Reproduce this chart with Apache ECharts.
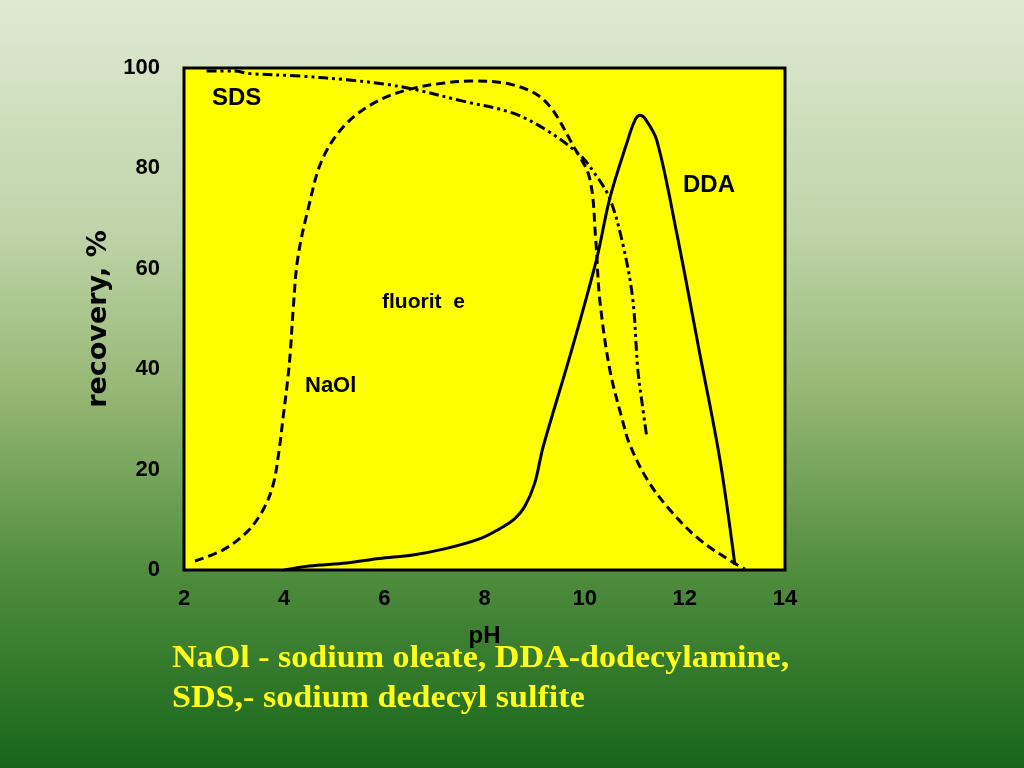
<!DOCTYPE html>
<html>
<head>
<meta charset="utf-8">
<script src="https://cdn.jsdelivr.net/npm/echarts@6/dist/echarts.min.js"></script>
<style>html,body{margin:0;padding:0;}#c{width:1024px;height:768px;}</style>
</head>
<body>
<div id="c"></div>
<script>
// ---- data (pH, recovery %) ----
const naolPH  = [2.22, 2.78, 3.26, 3.58, 3.78, 3.9, 3.98, 4.06, 4.12, 4.18, 4.27, 4.48, 4.77, 5.25, 5.9, 6.6, 7.2, 7.7, 8.5, 9.2, 9.8, 10.1, 10.22, 10.3, 10.5, 10.75, 10.9, 11.25, 11.7, 12.3, 12.95, 13.2];
const naolRec = [1.8, 4, 7.6, 12, 17, 24, 30.5, 37, 43, 52, 62, 72, 82, 89, 93.6, 96, 97, 97.4, 96.8, 93.5, 84, 78, 66, 54, 40, 30, 25, 18, 12, 6, 1.6, 0.2];

const sdsPH  = [2.45, 3.0, 3.3, 4.3, 5.3, 6.0, 6.57, 7.57, 8.57, 9.24, 9.9, 10.2, 10.5, 10.76, 10.96, 11.06, 11.15, 11.24];
const sdsRec = [99.4, 99.4, 98.9, 98.4, 97.6, 96.8, 95.8, 93.4, 91, 87.6, 82.7, 79, 74, 65, 54, 40, 33, 26.5];

const ddaPH  = [4.0, 4.5, 5.25, 5.9, 6.57, 7.2, 7.9, 8.3, 8.6, 8.8, 9.0, 9.17, 9.74, 10.24, 10.5, 10.84, 11.0, 11.1, 11.2, 11.44, 11.84, 12.3, 12.7, 13.0];
const ddaRec = [0, 0.8, 1.4, 2.3, 3, 4.2, 6.2, 8.2, 10.2, 12.6, 17.2, 24.5, 43.8, 62, 74, 85, 89.5, 90.6, 90, 85.6, 67, 43, 22, 1];

const xTicks = [2, 4, 6, 8, 10, 12, 14];
const yTicks = [0, 20, 40, 60, 80, 100];
const xName = 'pH';
const yName = 'recovery, %';
const curveLabels = ['SDS', 'DDA', 'fluorit  e', 'NaOl'];
const caption = ['NaOl - sodium oleate, DDA-dodecylamine,', 'SDS,- sodium dedecyl sulfite'];

const zip = (a, b) => a.map((v, i) => [v, b[i]]);

const chart = echarts.init(document.getElementById('c'));
const sans = 'Arial, "Liberation Sans", sans-serif';
const lineBase = { type: 'line', showSymbol: false, smooth: 0.35, silent: true };

chart.setOption({
  animation: false,
  backgroundColor: {
    type: 'linear', x: 0, y: 0, x2: 0, y2: 1,
    colorStops: [
      { offset: 0, color: '#dfe9d4' },
      { offset: 0.3, color: '#bfd4a8' },
      { offset: 0.5, color: '#99b977' },
      { offset: 0.75, color: '#4f8c3d' },
      { offset: 1, color: '#17661a' }
    ]
  },
  grid: {
    left: 184, top: 68, width: 601, height: 502,
    show: true, backgroundColor: '#ffff00', borderColor: '#000', borderWidth: 3
  },
  xAxis: {
    type: 'value', min: xTicks[0], max: xTicks[xTicks.length - 1], interval: 2,
    axisLine: { show: false }, axisTick: { show: false }, splitLine: { show: false },
    axisLabel: { fontSize: 22, margin: 18, color: '#000', fontFamily: sans, fontWeight: 'bold' },
    name: xName, nameLocation: 'middle', nameGap: 54,
    nameTextStyle: { fontFamily: sans, fontWeight: 'bold', fontSize: 24, color: '#000' }
  },
  yAxis: {
    type: 'value', min: yTicks[0], max: yTicks[yTicks.length - 1], interval: 20,
    axisLine: { show: false }, axisTick: { show: false }, splitLine: { show: false },
    axisLabel: { fontSize: 22, margin: 24, color: '#000', fontFamily: sans, fontWeight: 'bold' },
    name: yName, nameLocation: 'middle', nameGap: 58, nameRotate: 90,
    nameTextStyle: { fontFamily: '"DejaVu Sans", sans-serif', fontWeight: 'bold', fontSize: 27, color: '#000' }
  },
  graphic: [
    { type: 'text', left: 212, top: 86, style: { text: curveLabels[0], font: 'bold 24px Arial, "Liberation Sans"', fill: '#000' } },
    { type: 'text', left: 683, top: 173, style: { text: curveLabels[1], font: 'bold 24px Arial, "Liberation Sans"', fill: '#000' } },
    { type: 'text', left: 382, top: 292, style: { text: curveLabels[2], font: 'bold 21px Arial, "Liberation Sans"', fill: '#000' } },
    { type: 'text', left: 305, top: 375, style: { text: curveLabels[3], font: 'bold 22px Arial, "Liberation Sans"', fill: '#000' } },
    { type: 'text', x: 172, y: 643, scaleX: 1.065, style: { text: caption[0], font: 'bold 32px "Liberation Serif", "Times New Roman", serif', fill: '#ffff1a' } },
    { type: 'text', x: 172, y: 683, scaleX: 1.065, style: { text: caption[1], font: 'bold 32px "Liberation Serif", "Times New Roman", serif', fill: '#ffff1a' } }
  ],
  series: [
    Object.assign({}, lineBase, { name: 'NaOl', data: zip(naolPH, naolRec),
      lineStyle: { color: '#000', width: 3, type: [9, 5] } }),
    Object.assign({}, lineBase, { name: 'SDS', data: zip(sdsPH, sdsRec),
      lineStyle: { color: '#000', width: 3, type: [10, 4, 3, 4, 3, 4] } }),
    Object.assign({}, lineBase, { name: 'DDA', data: zip(ddaPH, ddaRec),
      lineStyle: { color: '#000', width: 3, type: 'solid' } })
  ]
});
</script>
</body>
</html>
